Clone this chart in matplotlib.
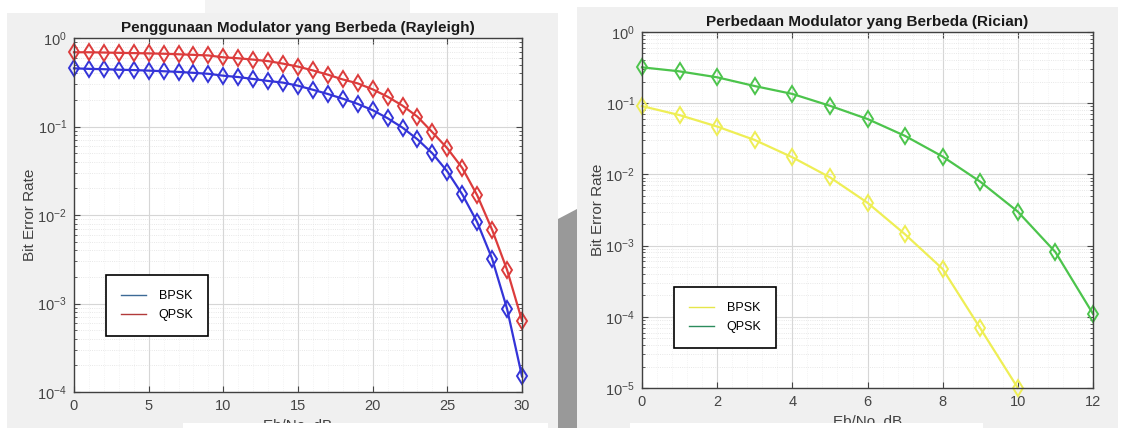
import matplotlib
matplotlib.use("Agg")
import matplotlib.pyplot as plt
from matplotlib.lines import Line2D
from matplotlib.patches import Rectangle, Polygon
from matplotlib.ticker import LogLocator, NullFormatter, MultipleLocator

plt.rcParams['font.family'] = ['Liberation Sans', 'DejaVu Sans']

# Rayleigh panel
ebno_ray = list(range(0, 31))
ber_bpsk_ray = [0.454, 0.448, 0.444, 0.438, 0.434, 0.428, 0.421, 0.414, 0.404, 0.394,
                0.375, 0.362, 0.344, 0.327, 0.313, 0.289, 0.260, 0.233, 0.206, 0.180,
                0.153, 0.124, 0.097, 0.0716, 0.0497, 0.031, 0.0171, 0.0083, 0.0032,
                0.00087, 0.00015]
ber_qpsk_ray = [0.690, 0.690, 0.685, 0.680, 0.675, 0.670, 0.664, 0.655, 0.645, 0.635,
                0.605, 0.590, 0.570, 0.548, 0.513, 0.475, 0.430, 0.385, 0.340, 0.307,
                0.263, 0.217, 0.172, 0.129, 0.086, 0.0567, 0.034, 0.0167, 0.0068,
                0.0024, 0.00064]

# Rician panel
ebno_ric = list(range(0, 13))
ber_bpsk_ric = [0.091, 0.068, 0.047, 0.0304, 0.0174, 0.0091, 0.0040, 0.00144,
                0.00047, 0.000069, 0.00001]
ber_qpsk_ric = [0.319, 0.280, 0.231, 0.174, 0.135, 0.092, 0.060, 0.0347, 0.0178,
                0.0079, 0.0030, 0.00081, 0.00011]

labels = ['BPSK', 'QPSK']

W, H = 1125, 428
fig = plt.figure(figsize=(W / 100, H / 100), dpi=100)
fig.patch.set_facecolor('white')


def px_rect(x0, y0, x1, y1, color, z):
    # rectangle given in image pixel coords (y down)
    fig.patches.append(Rectangle((x0 / W, 1 - y1 / H), (x1 - x0) / W, (y1 - y0) / H,
                                 transform=fig.transFigure, facecolor=color,
                                 edgecolor='none', zorder=z))


# screenshot backgrounds
px_rect(7, 13, 558, 428, '#f0f0f0', -5)
px_rect(205, 0, 410, 13, '#f3f3f3', -5)
px_rect(577, 7, 1118, 428, '#f0f0f0', -5)
fig.patches.append(Polygon([(558 / W, 1 - 219 / H), (577 / W, 1 - 209 / H),
                            (577 / W, 0), (558 / W, 0)], closed=True,
                           transform=fig.transFigure, facecolor='#999999',
                           edgecolor='none', zorder=-4))


def style_axes(ax, xmax, xstep, ymin, title):
    ax.set_facecolor('white')
    ax.set_yscale('log')
    ax.set_xlim(0, xmax)
    ax.set_ylim(ymin, 1)
    ax.xaxis.set_major_locator(MultipleLocator(xstep))
    ax.xaxis.set_minor_locator(MultipleLocator(xstep / 5))
    ax.yaxis.set_major_locator(LogLocator(base=10, numticks=10))
    ax.yaxis.set_minor_locator(LogLocator(base=10, subs=range(2, 10), numticks=20))
    ax.yaxis.set_minor_formatter(NullFormatter())
    ax.grid(True, which='major', color='#d6d6d6', lw=0.8)
    ax.grid(True, which='minor', axis='y', color='#e0e0e0', lw=0.6, ls=':')
    ax.grid(True, which='minor', axis='x', color='#ececec', lw=0.5, ls=':')
    ax.set_axisbelow(True)
    ax.tick_params(which='both', direction='in', top=True, right=True,
                   colors='#454545', labelsize=10.5)
    ax.tick_params(which='major', length=4, pad=5)
    ax.tick_params(which='minor', length=2.5)
    ax.tick_params(axis='x', which='minor', length=0)
    for s in ax.spines.values():
        s.set_color('#404040')
        s.set_linewidth(1.0)
    ax.set_title(title, fontsize=11, fontweight='bold', color='#1a1a1a', pad=4)
    ax.set_ylabel('Bit Error Rate', fontsize=11, color='#404040', labelpad=0)
    ax.set_xlabel('Eb/No, dB', fontsize=11, color='#404040', labelpad=4)


mk = dict(marker='d', markersize=8, markerfacecolor='none', markeredgewidth=1.4,
          lw=1.6, clip_on=False)

# left: Rayleigh
ax1 = fig.add_axes([74 / W, 1 - 392 / H, 448 / W, 354 / H])
ax1.plot(ebno_ray, ber_bpsk_ray, color='#3434d8', **mk)
ax1.plot(ebno_ray, ber_qpsk_ray, color='#dc3c3c', **mk)
style_axes(ax1, 30, 5, 1e-4, 'Penggunaan Modulator yang Berbeda (Rayleigh)')
h1 = [Line2D([], [], color='#3c6a96', lw=1.0), Line2D([], [], color='#b23a3a', lw=1.0)]
leg = ax1.legend(h1, labels, loc='upper left', bbox_to_anchor=((106 - 74) / 448, (392 - 275) / 354),
                 borderaxespad=0, fontsize=9, frameon=True, fancybox=False,
                 handlelength=2.0, handletextpad=1.0, labelspacing=0.55, borderpad=1.2)
leg.get_frame().set_edgecolor('black')
leg.get_frame().set_linewidth(1.2)
leg.get_frame().set_alpha(1)

# right: Rician
ax2 = fig.add_axes([642 / W, 1 - 388 / H, 451 / W, 356 / H])
ax2.plot(ebno_ric[:len(ber_bpsk_ric)], ber_bpsk_ric, color='#eeee55', **mk)
ax2.plot(ebno_ric, ber_qpsk_ric, color='#4cc44c', **mk)
style_axes(ax2, 12, 2, 1e-5, 'Perbedaan Modulator yang Berbeda (Rician)')
h2 = [Line2D([], [], color='#e6e64a', lw=1.0), Line2D([], [], color='#2c8c5c', lw=1.0)]
leg2 = ax2.legend(h2, labels, loc='upper left', bbox_to_anchor=((674 - 642) / 451, (388 - 287) / 356),
                  borderaxespad=0, fontsize=9, frameon=True, fancybox=False,
                  handlelength=2.0, handletextpad=1.0, labelspacing=0.55, borderpad=1.2)
leg2.get_frame().set_edgecolor('black')
leg2.get_frame().set_linewidth(1.2)
leg2.get_frame().set_alpha(1)

# white strips hiding the bottom of the x labels
px_rect(183, 423, 548, 428, 'white', 10)
px_rect(630, 423, 983, 428, 'white', 10)

fig.savefig('out.png', dpi=100, facecolor=fig.get_facecolor())
